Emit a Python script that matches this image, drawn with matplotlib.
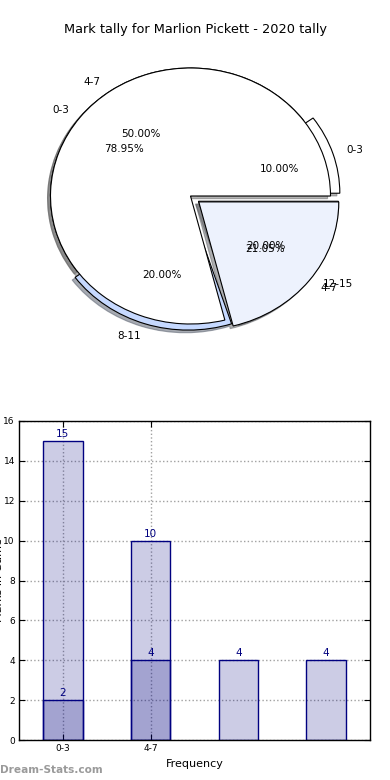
import matplotlib
matplotlib.use("Agg")
import matplotlib.pyplot as plt

# ---- data ----
title = "Mark tally for Marlion Pickett - 2020 tally"
pie_a_labels = ["0-3", "4-7", "8-11", "12-15"]
pie_a_values = [2, 10, 4, 4]
pie_b_labels = ["0-3", "4-7"]
pie_b_values = [15, 4]

bar_light_values = [15, 10, 4, 4]
bar_dark_values = [2, 4]
bar_tick_labels = ["0-3", "4-7"]
x_label = "Frequency"
y_label = "Marks in Game"
watermark = "Dream-Stats.com"

# ---- figure ----
W, H = 390, 780
fig = plt.figure(figsize=(W / 100, H / 100), dpi=100)

fig.text(195 / W, 1 - 30 / H, title, ha="center", va="center", fontsize=9.3)

# pie axes: center (190,196) px, rx=140, ry=128 per unit
L = 1.35
rx, ry = 140, 128
cx, cy = 190.5, 196
axp = fig.add_axes([(cx - L * rx) / W, 1 - (cy + L * ry) / H, 2 * L * rx / W, 2 * L * ry / H])

wp = dict(edgecolor="black", linewidth=0.8)
shad = dict(ox=-0.015, oy=-0.015, shade=0.6)
axp.pie(pie_a_values, labels=pie_a_labels, autopct="%1.2f%%",
        explode=[0.07, 0, 0.05, 0.07],
        colors=["white", "white", "#c6d9ff", "#edf2fd"],
        shadow=shad, startangle=0, counterclock=True,
        wedgeprops=wp, textprops=dict(fontsize=7.5))
axp.pie(pie_b_values, labels=pie_b_labels, autopct="%1.2f%%",
        explode=[0, 0.075],
        colors=["white", "#edf2fd"],
        shadow=shad, startangle=0, counterclock=True,
        wedgeprops=wp, textprops=dict(fontsize=7.5))
axp.set_aspect("auto")
axp.set_xlim(-L, L)
axp.set_ylim(-L, L)
axp.axis("off")

# bar axes
l, r, t, b = 19, 370, 421, 740
axb = fig.add_axes([l / W, 1 - b / H, (r - l) / W, (b - t) / H])
navy = "#000080"
face = (0, 0, 0.5, 0.2)
xl = list(range(len(bar_light_values)))
xd = list(range(len(bar_dark_values)))
bars1 = axb.bar(xl, bar_light_values, width=0.45, color=face, edgecolor=navy, linewidth=1)
bars2 = axb.bar(xd, bar_dark_values, width=0.45, color=face, edgecolor=navy, linewidth=1)
for bars in (bars1, bars2):
    for rect in bars:
        h = rect.get_height()
        axb.text(rect.get_x() + rect.get_width() / 2, h + 0.1, f"{int(h)}",
                 ha="center", va="bottom", fontsize=7.5, color=navy)

axb.set_xlim(-0.5, 3.5)
axb.set_ylim(0, 16)
axb.set_yticks(range(0, 17, 2))
axb.set_xticks(xd)
axb.set_xticklabels(bar_tick_labels)
axb.tick_params(axis="both", direction="in", length=4, labelsize=6.5,
                top=True, right=True, pad=3)
axb.grid(True, linestyle=":", color="#a0a0a0", linewidth=1)
axb.set_axisbelow(True)
for s in axb.spines.values():
    s.set_linewidth(1)
    s.set_color("black")
axb.set_xlabel(x_label, fontsize=8, labelpad=4)
axb.set_ylabel(y_label, fontsize=8)
axb.yaxis.set_label_coords((4 - l) / (r - l), 0.5)

fig.text(0, 1 - 770 / H, watermark, ha="left", va="center", fontsize=7.6,
         color="#9a9a9a", fontweight="bold")

fig.savefig("out.png", dpi=100)
